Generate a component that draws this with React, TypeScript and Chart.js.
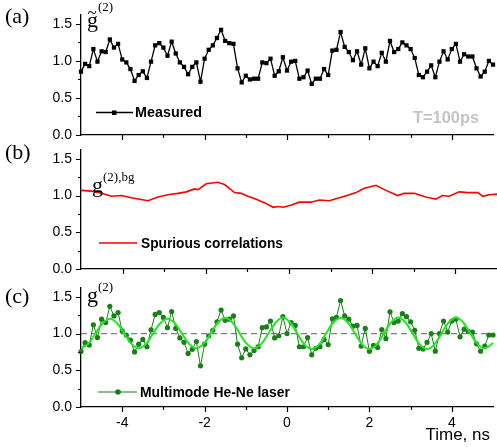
import React, { useEffect, useRef } from 'react';
import { Chart, registerables } from 'chart.js';

Chart.register(...registerables);

const W = 497;
const H = 447;
const SANS = "'Liberation Sans', Arial, sans-serif";
const SERIF = "'Liberation Serif', 'Times New Roman', serif";

// sampling grid, T = 100 ps
const timeNs = Array.from({ length: 101 }, (_, i) => Math.round((-5 + i * 0.1) * 10) / 10);

// (a) measured g~(2)
const measured = [
  0.855, 0.96, 0.93, 1.16, 0.99, 1.13, 1.12, 1.29, 1.18, 1.23,
  1.02, 0.98, 0.89, 0.73, 0.81, 0.86, 0.77, 0.99, 1.21, 1.24,
  1.18, 1.07, 1.26, 1.10, 0.98, 0.92, 0.82, 0.92, 0.98, 0.72,
  1.03, 1.15, 1.21, 1.31, 1.42, 1.27, 1.24, 1.23, 0.90, 0.71,
  0.80, 0.75, 0.76, 0.76, 0.98, 0.97, 1.03, 0.80, 0.86, 1.05,
  0.87, 0.99, 1.00, 0.76, 0.78, 0.87, 0.69, 0.76, 0.76, 0.89,
  0.81, 1.14, 1.15, 1.39, 1.19, 1.12, 1.01, 1.13, 0.95, 1.17,
  0.90, 0.99, 0.93, 1.11, 0.99, 1.27, 1.12, 1.16, 1.25, 1.21,
  1.16, 1.04, 0.81, 0.78, 0.855, 0.94, 0.78, 0.99, 1.13, 1.02,
  1.16, 1.23, 0.99, 1.09, 1.06, 1.06, 0.90, 0.79, 0.855, 1.00, 0.95,
];

// (b) spurious correlations g(2),bg
const spuriousTime = [
  -5.0, -4.75, -4.51, -4.27, -4.03, -3.79, -3.59, -3.39, -3.15, -2.91,
  -2.67, -2.47, -2.27, -2.19, -1.99, -1.71, -1.55, -1.31, -1.15, -0.99,
  -0.79, -0.58, -0.38, -0.26, -0.14, 0.06, 0.25, 0.53, 0.73, 0.97,
  1.21, 1.45, 1.61, 1.81, 2.09, 2.33, 2.61, 2.77, 3.01, 3.29,
  3.53, 3.69, 3.85, 4.09, 4.30, 4.54, 4.66, 4.81, 5.0,
];
const spurious = [
  1.07, 1.06, 1.03, 0.99, 1.00, 0.97, 0.95, 0.93, 0.98, 1.01,
  1.03, 1.05, 1.09, 1.08, 1.16, 1.18, 1.15, 1.04, 1.03, 0.99,
  0.95, 0.90, 0.84, 0.85, 0.84, 0.87, 0.91, 0.91, 0.94, 0.93,
  0.97, 1.01, 1.04, 1.10, 1.14, 1.07, 1.00, 1.03, 1.03, 0.98,
  0.95, 1.00, 0.99, 1.05, 1.04, 1.04, 0.99, 1.01, 1.02,
];

// (c) multimode He-Ne laser g(2)
const laser = [
  0.755, 0.877, 0.845, 1.12, 0.945, 1.195, 1.15, 1.37, 1.24, 1.285,
  1.035, 0.98, 0.91, 0.75, 0.855, 0.92, 0.82, 1.05, 1.26, 1.285,
  1.22, 1.08, 1.30, 1.07, 0.94, 0.88, 0.73, 0.785, 0.89, 0.56,
  0.855, 0.97, 1.045, 1.16, 1.32, 1.18, 1.195, 1.24, 0.855, 0.67,
  0.79, 0.71, 0.77, 0.82, 1.08, 1.09, 1.17, 0.94, 0.97, 1.23,
  1.00, 1.15, 1.11, 0.82, 0.82, 0.945, 0.71, 0.80, 0.82, 0.92,
  0.85, 1.20, 1.22, 1.45, 1.24, 1.195, 1.10, 1.11, 0.83, 1.07,
  0.76, 0.84, 0.81, 1.055, 0.93, 1.295, 1.15, 1.17, 1.27, 1.23,
  1.16, 1.045, 0.80, 0.79, 0.88, 1.00, 0.76, 1.00, 1.17, 1.02,
  1.17, 1.195, 0.955, 1.06, 1.03, 1.02, 0.86, 0.76, 0.83, 0.98, 0.98,
];

// (c) smooth fit curve
const fitTime = [
  -5.0, -4.825, -4.65, -4.475, -4.3, -4.125, -3.95, -3.775,
  -3.6, -3.425, -3.25, -3.075, -2.9, -2.725, -2.55, -2.375,
  -2.2, -2.025, -1.85, -1.675, -1.5, -1.325, -1.15, -0.975,
  -0.8, -0.625, -0.45, -0.275, -0.1, 0.075, 0.25, 0.425,
  0.6, 0.775, 0.95, 1.125, 1.3, 1.475, 1.65, 1.825,
  2.0, 2.175, 2.35, 2.525, 2.7, 2.875, 3.05, 3.225,
  3.4, 3.575, 3.75, 3.925, 4.1, 4.275, 4.45, 4.625,
  4.8, 5.0,
];
const fit = [
  0.80, 0.86, 1.00, 1.14, 1.20, 1.14, 1.00, 0.86,
  0.80, 0.86, 1.00, 1.14, 1.20, 1.14, 1.00, 0.86,
  0.80, 0.86, 1.00, 1.15, 1.21, 1.15, 1.00, 0.86,
  0.80, 0.86, 1.00, 1.15, 1.22, 1.15, 1.00, 0.85,
  0.79, 0.85, 1.00, 1.15, 1.21, 1.15, 1.00, 0.85,
  0.79, 0.85, 1.00, 1.15, 1.22, 1.15, 1.00, 0.85,
  0.79, 0.85, 1.00, 1.15, 1.22, 1.15, 1.00, 0.86,
  0.80, 0.87,
];

const refLevel = 1.0;
const xRange = [-5, 5];
const yRange = [0, 1.62];
const yLabelTicks = [0, 0.5, 1.0, 1.5];
const yTickMarks = [0, 0.25, 0.5, 0.75, 1.0, 1.25, 1.5];
const xLabelTicks = [-4, -2, 0, 2, 4];
const xTickMarks = [-4, -3, -2, -1, 0, 1, 2, 3, 4];

const pts = (xs: number[], ys: number[]) => xs.map((x, i) => ({ x, y: ys[i] }));

function drawTickMarks(chart: any) {
  const ctx = chart.ctx;
  const { left, bottom } = chart.chartArea;
  const xs = chart.scales.x;
  const ys = chart.scales.y;
  ctx.save();
  ctx.strokeStyle = '#000';
  ctx.lineWidth = 1.2;
  ctx.beginPath();
  for (const v of yTickMarks) {
    const len = Math.abs(v * 2 - Math.round(v * 2)) < 1e-6 ? 5 : 3;
    const py = Math.round(ys.getPixelForValue(v)) + 0.5;
    ctx.moveTo(left, py);
    ctx.lineTo(left - len, py);
  }
  for (const v of xTickMarks) {
    const len = v % 2 === 0 ? 5 : 3;
    const px = Math.round(xs.getPixelForValue(v)) + 0.5;
    ctx.moveTo(px, bottom);
    ctx.lineTo(px, bottom + len);
  }
  ctx.stroke();
  ctx.restore();
}

function text(ctx: any, s: string, x: number, y: number, font: string, color = '#000', maxW?: number, align = 'left') {
  ctx.save();
  ctx.font = font;
  ctx.fillStyle = color;
  ctx.textAlign = align;
  ctx.textBaseline = 'alphabetic';
  const w = ctx.measureText(s).width;
  if (maxW && w > maxW) ctx.fillText(s, x, y, maxW);
  else ctx.fillText(s, x, y);
  ctx.restore();
}

function legendLine(ctx: any, x0: number, x1: number, y: number, color: string, width: number) {
  ctx.save();
  ctx.strokeStyle = color;
  ctx.lineWidth = width;
  ctx.beginPath();
  ctx.moveTo(x0, y);
  ctx.lineTo(x1, y);
  ctx.stroke();
  ctx.restore();
}

function makeOptions(top: number, bottom: number, showX: boolean) {
  return {
    responsive: false,
    animation: false,
    devicePixelRatio: 1,
    events: [],
    layout: { padding: { top, left: 0, right: 0, bottom: 0 } },
    plugins: { legend: { display: false }, tooltip: { enabled: false } },
    scales: {
      x: {
        type: 'linear',
        min: xRange[0],
        max: xRange[1],
        afterFit: (s: any) => { s.height = H - bottom; },
        afterBuildTicks: (s: any) => { s.ticks = xLabelTicks.map((v) => ({ value: v })); },
        grid: { display: false, drawTicks: true, tickLength: 5 },
        border: { display: true, color: '#000', width: 1.3 },
        ticks: {
          display: showX,
          autoSkip: false,
          maxRotation: 0,
          padding: 3,
          color: '#000',
          font: { family: SANS, size: 14 },
          callback: (v: any) => String(v),
        },
      },
      y: {
        type: 'linear',
        min: yRange[0],
        max: yRange[1],
        afterFit: (s: any) => { s.width = 81; },
        afterBuildTicks: (s: any) => { s.ticks = yLabelTicks.map((v) => ({ value: v })); },
        grid: { display: false, drawTicks: true, tickLength: 5 },
        border: { display: true, color: '#000', width: 1.3 },
        ticks: {
          padding: 4,
          color: '#000',
          font: { family: SANS, size: 14 },
          callback: (v: any) => Number(v).toFixed(1),
        },
      },
    },
  } as any;
}

export default function App() {
  const refA = useRef<HTMLCanvasElement>(null);
  const refB = useRef<HTMLCanvasElement>(null);
  const refC = useRef<HTMLCanvasElement>(null);

  useEffect(() => {
    const chartA = new Chart(refA.current as HTMLCanvasElement, {
      type: 'line',
      data: {
        datasets: [
          {
            data: pts(timeNs, measured),
            borderColor: '#000',
            borderWidth: 1.3,
            pointStyle: 'rect',
            pointRadius: 3,
            pointBackgroundColor: '#000',
            pointBorderWidth: 0,
            tension: 0,
            clip: false,
          },
        ],
      },
      options: makeOptions(15, 135, false),
      plugins: [
        {
          id: 'decoA',
          afterDraw(chart: any) {
            const ctx = chart.ctx;
            drawTickMarks(chart);
            text(ctx, '(a)', 5, 23, `22px ${SERIF}`);
            text(ctx, 'g', 87, 27, `22px ${SERIF}`);
            text(ctx, '~', 87.5, 18, `17px ${SERIF}`);
            text(ctx, '(2)', 98, 11, `13px ${SERIF}`);
            legendLine(ctx, 96, 133, 112.5, '#000', 1.3);
            ctx.save();
            ctx.fillStyle = '#000';
            ctx.fillRect(112, 110.5, 4.5, 4.5);
            ctx.restore();
            text(ctx, 'Measured', 135, 117, `bold 15px ${SANS}`, '#000', 67);
            text(ctx, 'T=100ps', 413, 123, `bold 17px ${SANS}`, '#c4c4c4', 66);
          },
        },
      ],
    } as any);

    const chartB = new Chart(refB.current as HTMLCanvasElement, {
      type: 'line',
      data: {
        datasets: [
          {
            data: pts(spuriousTime, spurious),
            borderColor: '#ff0000',
            borderWidth: 1.6,
            pointRadius: 0,
            tension: 0,
          },
        ],
      },
      options: makeOptions(150, 269, false),
      plugins: [
        {
          id: 'decoB',
          afterDraw(chart: any) {
            const ctx = chart.ctx;
            drawTickMarks(chart);
            text(ctx, '(b)', 5, 159, `22px ${SERIF}`);
            text(ctx, 'g', 92, 192, `22px ${SERIF}`);
            text(ctx, '(2),bg', 103, 181, `13px ${SERIF}`);
            legendLine(ctx, 99, 137, 243, '#ff0000', 1.6);
            text(ctx, 'Spurious correlations', 141, 248, `bold 15px ${SANS}`, '#000', 142);
          },
        },
      ],
    } as any);

    const chartC = new Chart(refC.current as HTMLCanvasElement, {
      type: 'line',
      data: {
        datasets: [
          {
            data: pts(fitTime, fit),
            borderColor: '#22e622',
            borderWidth: 2,
            pointRadius: 0,
            tension: 0.4,
          },
          {
            data: pts(timeNs, laser),
            borderColor: '#1a7f1a',
            borderWidth: 1,
            pointRadius: 2.6,
            pointBackgroundColor: '#1a7f1a',
            pointBorderWidth: 0,
            tension: 0,
            clip: false,
          },
          {
            data: pts(xRange, [refLevel, refLevel]),
            borderColor: '#808080',
            borderWidth: 1.2,
            borderDash: [6, 4],
            pointRadius: 0,
            tension: 0,
          },
        ],
      },
      options: makeOptions(288, 407, true),
      plugins: [
        {
          id: 'decoC',
          afterDraw(chart: any) {
            const ctx = chart.ctx;
            drawTickMarks(chart);
            text(ctx, '(c)', 5, 303, `22px ${SERIF}`);
            text(ctx, 'g', 87, 302, `22px ${SERIF}`);
            text(ctx, '(2)', 98, 291, `13px ${SERIF}`);
            legendLine(ctx, 98, 137, 392, '#1a7f1a', 1.2);
            ctx.save();
            ctx.fillStyle = '#1a7f1a';
            ctx.beginPath();
            ctx.arc(118, 392, 2.8, 0, Math.PI * 2);
            ctx.fill();
            ctx.restore();
            text(ctx, 'Multimode He-Ne laser', 140, 397, `bold 15px ${SANS}`, '#000', 150);
            text(ctx, 'Time, ns', 490, 440, `17px ${SANS}`, '#000', 66, 'right');
          },
        },
      ],
    } as any);

    return () => {
      chartA.destroy();
      chartB.destroy();
      chartC.destroy();
    };
  }, []);

  const cs: React.CSSProperties = { position: 'absolute', left: 0, top: 0 };
  return (
    <div style={{ position: 'absolute', left: 0, top: 0, width: W, height: H, background: '#fff' }}>
      <canvas ref={refA} width={W} height={H} style={cs} />
      <canvas ref={refB} width={W} height={H} style={cs} />
      <canvas ref={refC} width={W} height={H} style={cs} />
    </div>
  );
}
